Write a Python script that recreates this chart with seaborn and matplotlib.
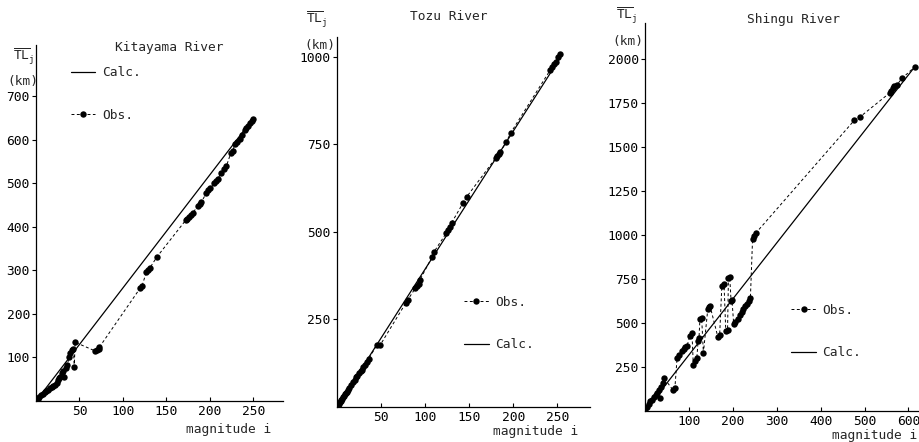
import matplotlib
matplotlib.use("Agg")
import matplotlib.pyplot as plt
import seaborn as sns
from matplotlib.lines import Line2D

# ---- Kitayama River ----
kit_i = [0, 2, 4, 6, 8, 10, 12, 14, 16, 18, 20, 22, 24, 25, 27, 28, 30, 31, 32, 34,
         36, 38, 39, 41, 43, 44, 45, 68, 70, 72, 73, 120, 122, 127, 129, 131, 139,
         172, 174, 176, 178, 180, 186, 188, 190, 196, 198, 200, 205, 207, 209, 213,
         216, 219, 224, 226, 229, 231, 234, 237, 240, 242, 244, 246, 248, 250]
kit_obs = [0, 5, 9, 13, 16, 20, 23, 25, 29, 32, 35, 37, 42, 48, 53, 56, 65, 70, 55, 75,
           83, 100, 110, 117, 120, 78, 135, 115, 117, 120, 124, 260, 265, 297, 300, 306, 331,
           415, 419, 423, 428, 432, 447, 452, 457, 478, 485, 490, 500, 505, 510, 525,
           533, 540, 570, 575, 590, 596, 603, 612, 622, 627, 633, 638, 643, 648]
kit_calc_i = [0, 250]
kit_calc = [0, 650]

# ---- Tozu River ----
toz_i = [0, 1, 2, 3, 4, 5, 6, 7, 8, 9, 10, 11, 12, 14, 16, 18, 20, 22, 23, 25, 27, 28,
         30, 32, 34, 36, 45, 49, 78, 80, 89, 91, 93, 94, 108, 110, 124, 126, 128, 130,
         143, 147, 180, 182, 184, 185, 192, 197, 242, 244, 246, 248, 251, 253]
toz_obs = [0, 5, 9, 13, 17, 20, 24, 28, 32, 36, 40, 44, 48, 55, 62, 70, 78, 85, 88, 96,
           103, 106, 114, 121, 129, 137, 177, 177, 297, 305, 340, 345, 352, 363, 429, 443,
           497, 505, 515, 526, 583, 600, 711, 718, 723, 728, 757, 783, 963, 970, 980, 986,
           1000, 1008]
toz_calc_i = [0, 255]
toz_calc = [0, 1005]

# ---- Shingu River ----
shi_i = [0, 4, 8, 12, 16, 20, 24, 28, 32, 34, 36, 40, 44, 64, 68, 73, 78, 84, 88, 92,
         96, 102, 107, 110, 114, 118, 121, 123, 125, 129, 133, 143, 146, 148, 166, 170,
         175, 180, 184, 188, 190, 193, 196, 198, 202, 206, 212, 216, 220, 224, 228, 232,
         236, 240, 245, 248, 252, 477, 489, 557, 561, 564, 568, 573, 586, 614]
shi_obs = [0, 25, 42, 55, 65, 78, 92, 105, 118, 74, 135, 160, 185, 118, 128, 300, 318,
           340, 352, 362, 372, 425, 443, 262, 285, 300, 400, 415, 520, 530, 330, 580, 592,
           598, 420, 430, 712, 720, 452, 460, 755, 761, 625, 632, 495, 505, 525, 545, 560,
           580, 595, 610, 625, 640, 980, 995, 1010, 1653, 1670, 1807, 1820, 1835, 1845,
           1852, 1892, 1955]
shi_calc_i = [0, 614]
shi_calc = [0, 1955]

titles = ["Kitayama River", "Tozu River", "Shingu River"]
kit_yticks = [100, 200, 300, 400, 500, 600, 700]
toz_yticks = [250, 500, 750, 1000]
shi_yticks = [250, 500, 750, 1000, 1250, 1500, 1750, 2000]
kit_xticks = [50, 100, 150, 200, 250]
toz_xticks = [50, 100, 150, 200, 250]
shi_xticks = [100, 200, 300, 400, 500, 600]

sns.set_theme(style="ticks")
MONO = "DejaVu Sans Mono"
plt.rcParams["font.family"] = [MONO]
plt.rcParams["mathtext.fontset"] = "custom"
plt.rcParams["mathtext.rm"] = MONO
plt.rcParams["mathtext.it"] = MONO

FS = 9.3
fig = plt.figure(figsize=(9.2, 4.42), dpi=100)
W, H = 920.0, 442.0


def make_axes(x0, x1, ybot, ytop):
    return fig.add_axes([x0 / W, 1 - ybot / H, (x1 - x0) / W, (ybot - ytop) / H])


ax1 = make_axes(36, 283, 401, 45)
ax2 = make_axes(337, 590, 407, 37)
ax3 = make_axes(645, 919, 411, 23)

panels = [
    (ax1, kit_i, kit_obs, kit_calc_i, kit_calc, (0, 284), (0, 818), kit_xticks, kit_yticks),
    (ax2, toz_i, toz_obs, toz_calc_i, toz_calc, (0, 287), (0, 1057), toz_xticks, toz_yticks),
    (ax3, shi_i, shi_obs, shi_calc_i, shi_calc, (0, 624), (0, 2205), shi_xticks, shi_yticks),
]

for ax, oi, ov, ci, cv, xl, yl, xt, yt in panels:
    sns.lineplot(x=ci, y=cv, ax=ax, color="black", lw=0.9, sort=False, estimator=None)
    sns.lineplot(x=oi, y=ov, ax=ax, color="black", lw=0.7, linestyle=(0, (3, 2.5)),
                 marker="o", markersize=4.6, markeredgewidth=0, sort=False, estimator=None)
    ax.set_xlim(*xl)
    ax.set_ylim(*yl)
    ax.set_xticks(xt)
    ax.set_yticks(yt)
    ax.tick_params(axis="both", labelsize=FS, length=3, width=0.8, pad=1.5, colors="black")
    ax.tick_params(axis="x", direction="in", pad=3)
    ax.set_xlabel("")
    ax.set_ylabel("")
    for s in ("top", "right"):
        ax.spines[s].set_visible(False)
    for s in ("left", "bottom"):
        ax.spines[s].set_linewidth(0.9)
        ax.spines[s].set_color("black")
    ax.set_facecolor("white")

calc_h = Line2D([], [], color="black", lw=0.9)
obs_h = Line2D([], [], color="black", lw=0.7, linestyle=(0, (3, 2.5)), marker="o",
               markersize=4.6, markeredgewidth=0)

leg_kw = dict(frameon=False, fontsize=FS, handlelength=1.9, handletextpad=0.5,
              labelspacing=2.3, borderaxespad=0)
ax1.legend([calc_h, obs_h], ["Calc.", "Obs."], loc="upper left",
           bbox_to_anchor=(0.12, 0.955), **leg_kw)
ax2.legend([obs_h, calc_h], ["Obs.", "Calc."], loc="upper left",
           bbox_to_anchor=(0.482, 0.315), **leg_kw)
ax3.legend([obs_h, calc_h], ["Obs.", "Calc."], loc="upper left",
           bbox_to_anchor=(0.515, 0.29), **leg_kw)

# titles
fig.text(115 / W, 1 - 47 / H, titles[0], fontsize=FS, va="center", ha="left")
fig.text(410 / W, 1 - 16 / H, titles[1], fontsize=FS, va="center", ha="left")
fig.text(747 / W, 1 - 20 / H, titles[2], fontsize=FS, va="center", ha="left")

# y-axis labels
ylab = r"$\overline{\mathrm{TL}}_{\mathrm{j}}$"
fig.text(13 / W, 1 - 57 / H, ylab, fontsize=FS, va="center", ha="left")
fig.text(7 / W, 1 - 81 / H, "(km)", fontsize=FS, va="center", ha="left")
fig.text(306 / W, 1 - 20 / H, ylab, fontsize=FS, va="center", ha="left")
fig.text(304 / W, 1 - 46 / H, "(km)", fontsize=FS, va="center", ha="left")
fig.text(616 / W, 1 - 16 / H, ylab, fontsize=FS, va="center", ha="left")
fig.text(612 / W, 1 - 42 / H, "(km)", fontsize=FS, va="center", ha="left")

# x-axis labels
fig.text(271 / W, 1 - 429 / H, "magnitude i", fontsize=FS, va="center", ha="right")
fig.text(578 / W, 1 - 432 / H, "magnitude i", fontsize=FS, va="center", ha="right")
fig.text(917 / W, 1 - 436 / H, "magnitude i", fontsize=FS, va="center", ha="right")

fig.savefig("out.png", dpi=100, facecolor="white")
